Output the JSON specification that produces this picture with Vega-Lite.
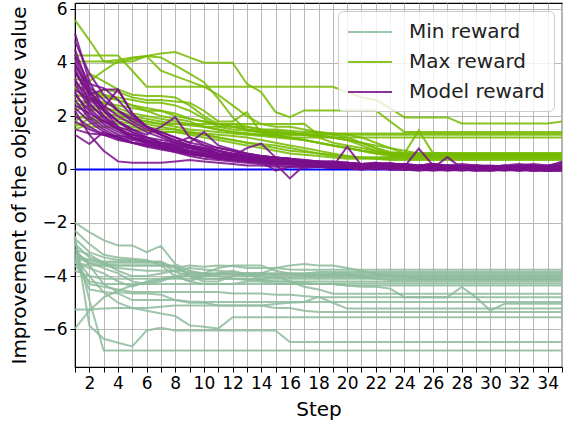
{
"$schema": "https://vega.github.io/schema/vega-lite/v6.json",
"width": 487, "height": 364,
"autosize": {"type": "none"},
"padding": {"left": 75, "top": 3, "right": 2, "bottom": 56},
"background": "white",
"config": {
 "view": {"stroke": "black", "strokeWidth": 1.2},
 "font": "DejaVu Sans",
 "axis": {"labelFont": "DejaVu Sans", "titleFont": "DejaVu Sans", "labelFontSize": 17, "titleFontSize": 20, "titleFontWeight": "normal", "labelColor": "black", "titleColor": "black", "domainColor": "black", "tickColor": "black", "gridColor": "#b8b8b8", "gridWidth": 1, "tickSize": 5, "labelPadding": 3},
 "legend": {"orient": "top-right", "offset": 8, "symbolType": "M-1,0L3,0", "symbolSize": 484, "symbolStrokeWidth": 2, "labelFontSize": 20, "labelFont": "DejaVu Sans", "labelColor": "#222222", "fillColor": "rgba(255,255,255,0.8)", "strokeColor": "#cccccc", "cornerRadius": 5, "padding": 9, "rowPadding": 8, "labelOffset": 38}
},
"data": {"values": [
{"g":"Min reward","i":"n1","s":[1,2,3,4,5,6,7,8,9,10,11,12,13,14,15,16,17,18,19,20,21,22,23,24,25,26,27,28,29,30,31,32,33,34,35],"v":[-2.0,-2.35,-2.65,-2.85,-2.85,-3.1,-2.87,-3.55,-3.8,-3.9,-3.9,-3.9,-3.95,-3.95,-3.95,-3.95,-3.95,-4.0,-4.0,-4.0,-4.0,-4.0,-4.0,-4.0,-4.0,-4.0,-4.0,-4.0,-4.0,-4.0,-4.0,-4.0,-4.0,-4.0,-4.0]},
{"g":"Min reward","i":"n2","s":[1,2,3,4,5,6,7,8,9,10,11,12,13,14,15,16,17,18,19,20,21,22,23,24,25,26,27,28,29,30,31,32,33,34,35],"v":[-2.5,-5.85,-6.35,-6.5,-6.64,-6.04,-5.94,-6.04,-6.04,-6.04,-6.04,-6.04,-6.04,-6.04,-6.04,-6.47,-6.47,-6.47,-6.47,-6.47,-6.47,-6.47,-6.47,-6.47,-6.47,-6.47,-6.47,-6.47,-6.47,-6.47,-6.47,-6.47,-6.47,-6.47,-6.47]},
{"g":"Min reward","i":"n3","s":[1,2,3,4,5,6,7,8,9,10,11,12,13,14,15,16,17,18,19,20,21,22,23,24,25,26,27,28,29,30,31,32,33,34,35],"v":[-2.7,-4.9,-6.79,-6.79,-6.79,-6.79,-6.79,-6.79,-6.79,-6.79,-6.79,-6.79,-6.79,-6.79,-6.79,-6.79,-6.79,-6.79,-6.79,-6.79,-6.79,-6.79,-6.79,-6.79,-6.79,-6.79,-6.79,-6.79,-6.79,-6.79,-6.79,-6.79,-6.79,-6.79,-6.79]},
{"g":"Min reward","i":"n4","s":[1,2,3,4,5,6,7,8,9,10,11,12,13,14,15,16,17,18,19,20,21,22,23,24,25,26,27,28,29,30,31,32,33,34,35],"v":[-5.97,-5.3,-4.8,-4.55,-4.35,-4.25,-4.15,-4.05,-4.0,-4.0,-3.95,-3.95,-3.9,-3.9,-3.9,-3.9,-3.9,-3.85,-3.85,-3.85,-3.85,-3.85,-3.85,-3.85,-3.85,-3.85,-3.85,-3.85,-3.85,-3.85,-3.85,-3.85,-3.85,-3.85,-3.85]},
{"g":"Min reward","i":"n5","s":[1,2,3,4,5,6,7,8,9,10,11,12,13,14,15,16,17,18,19,20,21,22,23,24,25,26,27,28,29,30,31,32,33,34,35],"v":[-5.25,-5.25,-5.22,-5.2,-5.2,-5.2,-5.15,-5.1,-5.1,-5.1,-5.1,-5.1,-5.1,-5.1,-5.05,-5.0,-4.97,-4.78,-5.0,-5.22,-5.22,-5.22,-5.22,-5.22,-5.22,-5.22,-5.22,-5.22,-5.22,-5.22,-5.22,-5.22,-5.22,-5.22,-5.22]},
{"g":"Min reward","i":"n6","s":[1,2,3,4,5,6,7,8,9,10,11,12,13,14,15,16,17,18,19,20,21,22,23,24,25,26,27,28,29,30,31,32,33,34,35],"v":[-3.3,-4.0,-4.6,-5.0,-5.2,-5.3,-5.4,-5.5,-5.85,-5.9,-5.97,-5.54,-5.54,-5.54,-5.54,-5.54,-5.54,-5.54,-5.54,-5.54,-5.54,-5.54,-5.54,-5.54,-5.54,-5.54,-5.54,-5.54,-5.54,-5.54,-5.54,-5.54,-5.54,-5.54,-5.54]},
{"g":"Min reward","i":"n7","s":[1,2,3,4,5,6,7,8,9,10,11,12,13,14,15,16,17,18,19,20,21,22,23,24,25,26,27,28,29,30,31,32,33,34,35],"v":[-3.0,-3.6,-4.3,-4.6,-4.65,-4.65,-4.7,-4.9,-5.0,-5.0,-5.1,-5.1,-5.1,-5.1,-5.2,-5.2,-5.3,-5.35,-5.35,-5.35,-5.35,-5.35,-5.35,-5.35,-5.35,-5.35,-5.35,-5.35,-5.35,-5.35,-5.35,-5.35,-5.35,-5.35,-5.35]},
{"g":"Min reward","i":"n8","s":[1,2,3,4,5,6,7,8,9,10,11,12,13,14,15,16,17,18,19,20,21,22,23,24,25,26,27,28,29,30,31,32,33,34,35],"v":[-3.1,-3.5,-3.7,-3.9,-4.2,-4.3,-4.2,-4.0,-4.2,-4.3,-4.3,-4.3,-4.2,-4.2,-4.3,-4.3,-4.3,-4.3,-4.3,-4.35,-4.4,-4.4,-4.47,-4.79,-4.79,-4.79,-4.79,-4.41,-4.8,-5.29,-5.04,-5.04,-5.04,-5.04,-5.04]},
{"g":"Min reward","i":"n9","s":[1,2,3,4,5,6,7,8,9,10,11,12,13,14,15,16,17,18,19,20,21,22,23,24,25,26,27,28,29,30,31,32,33,34,35],"v":[-3.4,-4.3,-4.4,-4.5,-4.6,-4.6,-4.6,-4.6,-4.6,-4.6,-4.6,-4.65,-4.65,-4.65,-4.7,-4.7,-4.75,-4.79,-4.79,-4.79,-4.79,-4.79,-4.79,-4.79,-4.79,-4.79,-4.79,-4.79,-4.79,-4.79,-4.79,-4.79,-4.79,-4.79,-4.79]},
{"g":"Min reward","i":"n10","s":[1,2,3,4,5,6,7,8,9,10,11,12,13,14,15,16,17,18,19,20,21,22,23,24,25,26,27,28,29,30,31,32,33,34,35],"v":[-3.2,-3.4,-3.55,-3.6,-3.6,-3.6,-3.6,-3.65,-3.9,-4.0,-3.9,-3.8,-3.95,-4.1,-4.0,-4.2,-4.4,-4.5,-4.66,-4.66,-4.66,-4.66,-4.66,-4.66,-4.66,-4.66,-4.66,-4.66,-4.66,-4.66,-4.66,-4.66,-4.66,-4.66,-4.66]},
{"g":"Min reward","i":"n11","s":[1,2,3,4,5,6,7,8,9,10,11,12,13,14,15,16,17,18,19,20,21,22,23,24,25,26,27,28,29,30,31,32,33,34,35],"v":[-3.5,-3.7,-3.9,-4.2,-4.4,-4.2,-4.1,-4.0,-3.9,-3.9,-4.0,-4.1,-4.1,-4.15,-4.2,-4.2,-4.25,-4.3,-4.3,-4.35,-4.35,-4.35,-4.35,-4.35,-4.35,-4.35,-4.35,-4.35,-4.35,-4.35,-4.35,-4.35,-4.35,-4.35,-4.35]},
{"g":"Min reward","i":"n12","s":[1,2,3,4,5,6,7,8,9,10,11,12,13,14,15,16,17,18,19,20,21,22,23,24,25,26,27,28,29,30,31,32,33,34,35],"v":[-3.6,-4.2,-4.3,-4.3,-4.3,-4.3,-4.3,-4.3,-4.3,-4.3,-4.3,-4.3,-4.3,-4.3,-4.3,-4.3,-4.3,-4.3,-4.28,-4.28,-4.28,-4.28,-4.28,-4.28,-4.28,-4.28,-4.28,-4.28,-4.28,-4.28,-4.28,-4.28,-4.28,-4.28,-4.28]},
{"g":"Min reward","i":"n13","s":[1,2,3,4,5,6,7,8,9,10,11,12,13,14,15,16,17,18,19,20,21,22,23,24,25,26,27,28,29,30,31,32,33,34,35],"v":[-2.8,-3.3,-3.5,-3.5,-3.5,-3.5,-3.5,-3.85,-4.0,-4.1,-4.1,-4.1,-4.15,-4.15,-4.2,-4.2,-4.2,-4.2,-4.2,-4.2,-4.2,-4.2,-4.2,-4.2,-4.2,-4.2,-4.2,-4.2,-4.2,-4.2,-4.2,-4.2,-4.2,-4.2,-4.2]},
{"g":"Min reward","i":"n14","s":[1,2,3,4,5,6,7,8,9,10,11,12,13,14,15,16,17,18,19,20,21,22,23,24,25,26,27,28,29,30,31,32,33,34,35],"v":[-3.3,-3.4,-3.45,-3.45,-3.45,-3.45,-3.45,-3.7,-3.9,-3.9,-3.7,-3.6,-3.6,-3.6,-3.8,-3.9,-4.0,-4.0,-3.9,-3.9,-4.05,-4.1,-4.15,-4.15,-4.15,-4.15,-4.15,-4.15,-4.15,-4.15,-4.15,-4.15,-4.15,-4.15,-4.15]},
{"g":"Min reward","i":"n15","s":[1,2,3,4,5,6,7,8,9,10,11,12,13,14,15,16,17,18,19,20,21,22,23,24,25,26,27,28,29,30,31,32,33,34,35],"v":[-3.5,-3.6,-3.6,-3.6,-3.6,-3.6,-3.6,-3.6,-4.0,-4.2,-4.2,-4.0,-3.9,-3.9,-3.7,-3.6,-3.55,-3.6,-3.6,-3.7,-3.8,-3.9,-4.0,-4.0,-4.1,-4.1,-4.1,-4.1,-4.1,-4.1,-4.1,-4.1,-4.1,-4.1,-4.1]},
{"g":"Min reward","i":"n16","s":[1,2,3,4,5,6,7,8,9,10,11,12,13,14,15,16,17,18,19,20,21,22,23,24,25,26,27,28,29,30,31,32,33,34,35],"v":[-2.3,-2.8,-3.2,-3.3,-3.35,-3.4,-3.6,-4.0,-4.2,-4.0,-3.9,-3.95,-4.0,-4.0,-4.05,-4.05,-4.05,-4.05,-4.05,-4.05,-4.05,-4.05,-4.05,-4.05,-4.05,-4.05,-4.05,-4.05,-4.05,-4.05,-4.05,-4.05,-4.05,-4.05,-4.05]},
{"g":"Min reward","i":"n17","s":[1,2,3,4,5,6,7,8,9,10,11,12,13,14,15,16,17,18,19,20,21,22,23,24,25,26,27,28,29,30,31,32,33,34,35],"v":[-3.0,-3.2,-3.5,-3.8,-4.0,-4.0,-3.9,-3.8,-3.7,-3.75,-3.8,-3.85,-3.9,-3.9,-3.95,-3.95,-3.95,-3.95,-3.95,-3.95,-3.95,-3.95,-3.95,-3.95,-3.95,-3.95,-3.95,-3.95,-3.95,-3.95,-3.95,-3.95,-3.95,-3.95,-3.95]},
{"g":"Min reward","i":"n18","s":[1,2,3,4,5,6,7,8,9,10,11,12,13,14,15,16,17,18,19,20,21,22,23,24,25,26,27,28,29,30,31,32,33,34,35],"v":[-3.3,-3.5,-3.6,-3.7,-3.75,-3.8,-3.8,-3.8,-3.85,-3.9,-3.9,-3.9,-3.9,-3.9,-3.9,-3.9,-3.9,-3.9,-3.9,-3.9,-3.9,-3.9,-3.9,-3.9,-3.9,-3.9,-3.9,-3.9,-3.9,-3.9,-3.9,-3.9,-3.9,-3.9,-3.9]},
{"g":"Min reward","i":"n19","s":[1,2,3,4,5,6,7,8,9,10,11,12,13,14,15,16,17,18,19,20,21,22,23,24,25,26,27,28,29,30,31,32,33,34,35],"v":[-2.6,-3.1,-3.3,-3.4,-3.4,-3.45,-3.5,-3.7,-3.6,-3.65,-3.6,-3.62,-3.7,-3.7,-3.7,-3.75,-3.76,-3.76,-3.76,-3.76,-3.76,-3.76,-3.76,-3.76,-3.76,-3.76,-3.76,-3.76,-3.76,-3.76,-3.76,-3.76,-3.76,-3.76,-3.76]},
{"g":"Min reward","i":"n20","s":[1,2,3,4,5,6,7,8,9,10,11,12,13,14,15,16,17,18,19,20,21,22,23,24,25,26,27,28,29,30,31,32,33,34,35],"v":[-3.8,-4.0,-4.1,-4.1,-4.1,-4.1,-4.1,-4.1,-4.1,-4.1,-4.1,-4.1,-4.1,-4.1,-4.1,-4.1,-4.1,-4.1,-4.1,-4.1,-4.1,-4.1,-4.1,-4.1,-4.1,-4.1,-4.1,-4.1,-4.1,-4.1,-4.1,-4.1,-4.1,-4.1,-4.1]},
{"g":"Min reward","i":"n21","s":[1,2,3,4,5,6,7,8,9,10,11,12,13,14,15,16,17,18,19,20,21,22,23,24,25,26,27,28,29,30,31,32,33,34,35],"v":[-3.4,-4.5,-4.6,-4.65,-4.9,-4.9,-4.9,-4.9,-4.95,-4.97,-4.97,-4.97,-4.97,-4.97,-4.97,-4.97,-4.97,-4.97,-4.97,-4.97,-4.97,-4.97,-4.97,-4.97,-4.97,-4.97,-4.97,-4.97,-4.97,-4.97,-4.97,-4.97,-4.97,-4.97,-4.97]},
{"g":"Max reward","i":"x1","s":[1,2,3,4,5,6,7,8,9,10,11,12,13,14,15,16,17,18,19,20,21,22,23,24,25,26,27,28,29,30,31,32,33,34,35],"v":[5.6,4.85,4.05,4.1,4.2,4.25,4.35,4.4,4.2,4.0,4.0,4.0,3.21,2.9,2.15,1.96,2.21,2.21,2.21,2.21,2.21,2.21,1.8,1.4,1.4,1.4,1.4,1.4,1.4,1.4,1.4,1.4,1.4,1.4,1.4]},
{"g":"Max reward","i":"x2","s":[1,2,3,4,5,6,7,8,9,10,11,12,13,14,15,16,17,18,19,20,21,22,23,24,25,26,27,28,29,30,31,32,33,34,35],"v":[4.27,4.27,4.27,4.27,3.7,3.1,3.1,3.1,3.1,3.1,3.1,3.1,3.1,3.1,3.1,3.1,3.1,3.1,3.1,2.9,2.7,2.6,2.3,1.95,1.95,1.95,1.95,1.72,1.72,1.72,1.72,1.72,1.72,1.72,1.8]},
{"g":"Max reward","i":"x3","s":[1,2,3,4,5,6,7,8,9,10,11,12,13,14,15,16,17,18,19,20,21,22,23,24,25,26,27,28,29,30,31,32,33,34,35],"v":[4.05,4.05,4.05,4.0,4.15,4.25,4.2,3.9,3.59,3.27,2.66,1.96,1.46,1.4,1.38,1.35,1.35,1.35,1.35,1.35,1.35,1.35,1.35,1.35,1.35,1.35,1.35,1.35,1.35,1.35,1.35,1.35,1.35,1.35,1.35]},
{"g":"Max reward","i":"x4","s":[1,2,3,4,5,6,7,8,9,10,11,12,13,14,15,16,17,18,19,20,21,22,23,24,25,26,27,28,29,30,31,32,33,34,35],"v":[3.4,3.3,3.7,4.05,4.05,4.25,3.7,3.5,3.3,3.1,2.8,2.4,2.0,1.7,1.6,1.6,1.5,1.4,1.3,1.2,1.0,0.9,0.8,0.7,0.6,0.6,0.6,0.6,0.6,0.6,0.6,0.6,0.6,0.6,0.6]},
{"g":"Max reward","i":"x5","s":[1,2,3,4,5,6,7,8,9,10,11,12,13,14,15,16,17,18,19,20,21,22,23,24,25,26,27,28,29,30,31,32,33,34,35],"v":[3.0,3.6,3.3,3.0,2.8,2.75,2.75,2.7,2.4,2.0,1.7,1.6,1.5,1.4,1.3,1.3,1.3,1.3,1.3,1.3,1.3,1.3,1.3,1.3,1.3,1.3,1.3,1.3,1.3,1.3,1.3,1.3,1.3,1.3,1.3]},
{"g":"Max reward","i":"x6","s":[1,2,3,4,5,6,7,8,9,10,11,12,13,14,15,16,17,18,19,20,21,22,23,24,25,26,27,28,29,30,31,32,33,34,35],"v":[2.6,2.5,3.0,2.9,2.7,2.6,2.6,2.55,2.5,2.2,1.8,1.8,2.15,1.35,1.3,1.2,1.2,1.2,1.2,1.2,1.2,1.2,1.2,1.2,1.2,1.2,1.2,1.2,1.2,1.2,1.2,1.2,1.2,1.2,1.2]},
{"g":"Max reward","i":"x7","s":[1,2,3,4,5,6,7,8,9,10,11,12,13,14,15,16,17,18,19,20,21,22,23,24,25,26,27,28,29,30,31,32,33,34,35],"v":[3.0,2.6,2.5,2.4,2.3,2.2,2.2,2.1,1.9,1.8,1.7,1.6,1.6,1.5,1.5,1.45,1.4,1.4,1.35,1.3,1.2,1.0,0.8,0.6,0.6,0.6,0.6,0.6,0.6,0.6,0.6,0.6,0.6,0.6,0.6]},
{"g":"Max reward","i":"x8","s":[1,2,3,4,5,6,7,8,9,10,11,12,13,14,15,16,17,18,19,20,21,22,23,24,25,26,27,28,29,30,31,32,33,34,35],"v":[2.8,2.7,2.5,2.3,2.1,2.0,1.9,1.8,1.7,1.7,1.7,1.7,1.7,1.7,1.7,1.7,1.71,1.3,1.2,1.1,1.0,0.8,0.6,0.55,0.55,0.55,0.55,0.55,0.55,0.55,0.55,0.55,0.55,0.55,0.55]},
{"g":"Max reward","i":"x9","s":[1,2,3,4,5,6,7,8,9,10,11,12,13,14,15,16,17,18,19,20,21,22,23,24,25,26,27,28,29,30,31,32,33,34,35],"v":[2.2,2.4,2.3,2.2,2.0,1.9,1.8,1.7,1.65,1.6,1.5,1.4,1.35,1.3,1.25,1.2,1.1,1.0,0.9,0.8,0.7,0.65,0.6,0.6,1.46,0.6,0.6,0.55,0.55,0.55,0.55,0.55,0.55,0.55,0.55]},
{"g":"Max reward","i":"x10","s":[1,2,3,4,5,6,7,8,9,10,11,12,13,14,15,16,17,18,19,20,21,22,23,24,25,26,27,28,29,30,31,32,33,34,35],"v":[1.8,2.2,2.3,2.1,1.9,1.8,1.7,1.6,1.5,1.45,1.4,1.35,1.3,1.25,1.2,1.15,1.1,1.0,0.9,0.8,0.7,0.6,0.5,0.5,0.5,0.5,0.5,0.5,0.5,0.5,0.5,0.5,0.5,0.5,0.5]},
{"g":"Max reward","i":"x11","s":[1,2,3,4,5,6,7,8,9,10,11,12,13,14,15,16,17,18,19,20,21,22,23,24,25,26,27,28,29,30,31,32,33,34,35],"v":[1.6,1.9,2.0,1.9,1.8,1.7,1.6,1.5,1.4,1.35,1.3,1.25,1.2,1.1,1.0,0.9,0.8,0.7,0.6,0.5,0.45,0.45,0.45,0.45,0.45,0.45,0.45,0.45,0.45,0.45,0.45,0.45,0.45,0.45,0.45]},
{"g":"Max reward","i":"x12","s":[1,2,3,4,5,6,7,8,9,10,11,12,13,14,15,16,17,18,19,20,21,22,23,24,25,26,27,28,29,30,31,32,33,34,35],"v":[1.5,1.7,1.8,1.7,1.6,1.5,1.4,1.4,1.3,1.2,1.1,1.0,0.9,0.8,0.7,0.6,0.55,0.5,0.45,0.4,0.4,0.4,0.4,0.4,0.4,0.4,0.4,0.4,0.4,0.4,0.4,0.4,0.4,0.4,0.4]},
{"g":"Max reward","i":"x13","s":[1,2,3,4,5,6,7,8,9,10,11,12,13,14,15,16,17,18,19,20,21,22,23,24,25,26,27,28,29,30,31,32,33,34,35],"v":[2.5,2.3,2.1,2.0,1.9,1.8,1.7,1.7,1.7,1.6,1.6,1.6,1.5,1.45,1.4,1.35,1.3,1.25,1.2,1.1,0.9,0.7,0.55,0.5,0.5,0.5,0.5,0.5,0.5,0.5,0.5,0.5,0.5,0.5,0.5]},
{"g":"Max reward","i":"x14","s":[1,2,3,4,5,6,7,8,9,10,11,12,13,14,15,16,17,18,19,20,21,22,23,24,25,26,27,28,29,30,31,32,33,34,35],"v":[2.7,2.9,2.7,2.6,2.4,2.3,2.2,2.0,1.9,1.8,1.7,1.7,1.6,1.5,1.45,1.4,1.3,1.2,1.0,0.9,0.8,0.7,0.6,0.6,0.6,0.6,0.6,0.6,0.6,0.6,0.6,0.6,0.6,0.6,0.6]},
{"g":"Max reward","i":"x15","s":[1,2,3,4,5,6,7,8,9,10,11,12,13,14,15,16,17,18,19,20,21,22,23,24,25,26,27,28,29,30,31,32,33,34,35],"v":[2.0,1.9,1.8,1.8,1.7,1.6,1.5,1.5,1.4,1.3,1.2,1.1,1.0,0.95,0.9,0.8,0.7,0.6,0.55,0.5,0.45,0.4,0.35,0.35,0.35,0.35,0.35,0.35,0.35,0.35,0.35,0.35,0.35,0.35,0.35]},
{"g":"Max reward","i":"x16","s":[1,2,3,4,5,6,7,8,9,10,11,12,13,14,15,16,17,18,19,20,21,22,23,24,25,26,27,28,29,30,31,32,33,34,35],"v":[3.1,3.0,2.8,2.7,2.6,2.5,2.5,2.4,2.2,1.9,1.6,1.5,1.45,1.4,1.35,1.3,1.3,1.25,1.2,1.1,1.0,0.8,0.65,0.6,0.6,0.6,0.6,0.6,0.6,0.6,0.6,0.6,0.6,0.6,0.6]},
{"g":"Max reward","i":"x17","s":[1,2,3,4,5,6,7,8,9,10,11,12,13,14,15,16,17,18,19,20,21,22,23,24,25,26,27,28,29,30,31,32,33,34,35],"v":[2.3,2.6,2.8,2.6,2.4,2.2,2.0,1.9,1.8,1.6,1.5,1.4,1.35,1.3,1.25,1.2,1.1,1.0,0.9,0.8,0.7,0.6,0.55,0.55,0.55,0.55,0.55,0.55,0.55,0.55,0.55,0.55,0.55,0.55,0.55]},
{"g":"Max reward","i":"x18","s":[1,2,3,4,5,6,7,8,9,10,11,12,13,14,15,16,17,18,19,20,21,22,23,24,25,26,27,28,29,30,31,32,33,34,35],"v":[1.7,1.6,1.6,1.55,1.5,1.45,1.4,1.4,1.35,1.3,1.2,1.1,1.0,0.9,0.8,0.7,0.65,0.6,0.5,0.45,0.45,0.45,0.45,0.45,0.45,0.45,0.45,0.45,0.45,0.45,0.45,0.45,0.45,0.45,0.45]},
{"g":"Model reward","i":"p1","s":[1,2,3,4,5,6,7,8,9,10,11,12,13,14,15,16,17,18,19,20,21,22,23,24,25,26,27,28,29,30,31,32,33,34,35],"v":[5.1,3.3,2.3,1.8,1.4,1.1,0.9,0.8,0.65,0.55,0.45,0.4,0.35,0.3,0.25,0.2,0.25,0.15,0.2,0.1,0.15,0.1,0.05,0.15,0.1,0.05,0.1,0.05,0.1,0.0,0.05,0.0,0.05,0.1,0.0]},
{"g":"Model reward","i":"p2","s":[1,2,3,4,5,6,7,8,9,10,11,12,13,14,15,16,17,18,19,20,21,22,23,24,25,26,27,28,29,30,31,32,33,34,35],"v":[4.8,3.6,2.8,2.2,1.8,1.5,1.3,1.1,0.9,0.8,0.6,0.5,0.45,0.4,0.3,0.3,0.25,0.2,0.15,0.2,0.15,0.1,0.15,0.05,0.1,0.1,0.05,0.05,0.1,0.05,0.0,0.05,0.05,0.0,0.05]},
{"g":"Model reward","i":"p3","s":[1,2,3,4,5,6,7,8,9,10,11,12,13,14,15,16,17,18,19,20,21,22,23,24,25,26,27,28,29,30,31,32,33,34,35],"v":[4.5,3.0,2.2,1.6,1.2,1.0,0.85,0.7,0.6,0.5,0.4,0.35,0.3,0.25,0.2,0.2,0.15,0.2,0.1,0.1,0.05,0.1,0.05,0.05,0.0,0.05,0.0,0.0,-0.05,0.0,0.0,0.05,0.0,-0.05,0.0]},
{"g":"Model reward","i":"p4","s":[1,2,3,4,5,6,7,8,9,10,11,12,13,14,15,16,17,18,19,20,21,22,23,24,25,26,27,28,29,30,31,32,33,34,35],"v":[4.3,3.2,3.05,2.6,2.0,1.6,1.3,1.1,0.9,0.75,0.6,0.5,0.45,0.35,0.3,0.3,0.25,0.2,0.25,0.15,0.2,0.15,0.1,0.15,0.1,0.1,0.15,0.1,0.05,0.1,0.1,0.05,0.1,0.1,0.15]},
{"g":"Model reward","i":"p5","s":[1,2,3,4,5,6,7,8,9,10,11,12,13,14,15,16,17,18,19,20,21,22,23,24,25,26,27,28,29,30,31,32,33,34,35],"v":[4.0,2.8,3.0,3.0,2.1,1.6,1.3,1.0,1.2,0.9,0.7,0.55,0.45,0.4,0.3,0.25,0.3,0.2,0.15,0.2,0.1,0.15,0.1,0.05,0.1,0.05,0.1,0.05,0.05,0.1,0.05,0.05,0.0,0.05,0.1]},
{"g":"Model reward","i":"p6","s":[1,2,3,4,5,6,7,8,9,10,11,12,13,14,15,16,17,18,19,20,21,22,23,24,25,26,27,28,29,30,31,32,33,34,35],"v":[3.8,2.5,1.9,1.5,1.3,1.1,0.9,0.75,0.6,0.5,0.45,0.4,0.35,0.3,0.25,0.2,0.2,0.15,0.1,0.85,0.15,0.1,0.05,0.1,0.05,0.0,0.05,0.0,0.0,0.05,0.0,0.0,-0.05,0.0,0.0]},
{"g":"Model reward","i":"p7","s":[1,2,3,4,5,6,7,8,9,10,11,12,13,14,15,16,17,18,19,20,21,22,23,24,25,26,27,28,29,30,31,32,33,34,35],"v":[3.6,2.9,2.4,2.0,1.7,1.4,1.2,1.0,0.85,0.7,0.6,0.5,0.45,0.4,0.35,0.3,0.3,0.25,0.2,0.2,0.15,0.2,0.15,0.1,0.78,0.15,0.1,0.1,0.05,0.1,0.05,0.1,0.05,0.05,0.1]},
{"g":"Model reward","i":"p8","s":[1,2,3,4,5,6,7,8,9,10,11,12,13,14,15,16,17,18,19,20,21,22,23,24,25,26,27,28,29,30,31,32,33,34,35],"v":[3.4,2.4,2.0,1.6,1.4,1.2,1.0,0.9,0.8,0.65,0.55,0.5,0.4,0.3,-0.05,0.1,0.15,0.1,0.05,0.1,0.05,0.05,0.1,0.0,0.05,0.05,0.46,0.05,0.0,0.0,0.05,0.0,-0.05,-0.05,0.0]},
{"g":"Model reward","i":"p9","s":[1,2,3,4,5,6,7,8,9,10,11,12,13,14,15,16,17,18,19,20,21,22,23,24,25,26,27,28,29,30,31,32,33,34,35],"v":[3.2,2.3,1.8,1.5,1.2,1.0,0.9,0.75,0.6,0.5,0.4,0.35,0.3,0.3,0.2,-0.34,0.15,0.1,0.1,0.05,0.05,0.0,0.05,0.0,0.05,0.0,0.0,-0.05,0.0,0.0,0.0,-0.05,0.0,0.0,0.0]},
{"g":"Model reward","i":"p10","s":[1,2,3,4,5,6,7,8,9,10,11,12,13,14,15,16,17,18,19,20,21,22,23,24,25,26,27,28,29,30,31,32,33,34,35],"v":[3.0,2.6,2.2,1.8,1.5,1.3,1.6,1.96,1.2,1.0,0.8,0.7,0.5,0.45,0.4,0.3,0.25,0.2,0.25,0.2,0.15,0.15,0.1,0.15,0.1,0.1,0.05,0.1,0.1,0.05,0.15,0.1,0.1,0.05,0.15]},
{"g":"Model reward","i":"p11","s":[1,2,3,4,5,6,7,8,9,10,11,12,13,14,15,16,17,18,19,20,21,22,23,24,25,26,27,28,29,30,31,32,33,34,35],"v":[2.8,2.2,1.7,1.4,1.2,1.05,0.95,0.85,0.7,0.6,0.5,0.45,0.4,0.35,0.3,0.3,0.25,0.2,0.25,0.2,0.15,0.15,0.2,0.15,0.1,0.15,0.1,0.15,0.1,0.1,0.1,0.05,0.1,0.1,0.1]},
{"g":"Model reward","i":"p12","s":[1,2,3,4,5,6,7,8,9,10,11,12,13,14,15,16,17,18,19,20,21,22,23,24,25,26,27,28,29,30,31,32,33,34,35],"v":[2.6,1.9,1.5,1.2,1.0,0.9,0.8,0.7,0.6,0.5,0.45,0.4,0.3,0.25,0.2,0.2,0.15,0.1,0.15,0.1,0.05,0.1,0.05,0.05,0.0,0.05,0.0,0.05,0.0,0.0,-0.05,0.0,0.0,0.05,0.0]},
{"g":"Model reward","i":"p13","s":[1,2,3,4,5,6,7,8,9,10,11,12,13,14,15,16,17,18,19,20,21,22,23,24,25,26,27,28,29,30,31,32,33,34,35],"v":[2.2,1.3,0.7,0.3,0.25,0.25,0.25,0.3,0.35,0.3,0.25,0.2,0.15,0.15,0.1,0.1,0.05,0.1,0.05,0.05,0.0,0.05,0.0,0.0,0.0,-0.05,0.0,0.0,0.0,-0.05,0.0,0.0,-0.05,0.0,0.0]},
{"g":"Model reward","i":"p14","s":[1,2,3,4,5,6,7,8,9,10,11,12,13,14,15,16,17,18,19,20,21,22,23,24,25,26,27,28,29,30,31,32,33,34,35],"v":[2.3,1.8,1.4,1.15,1.0,0.9,0.8,0.7,0.6,0.55,0.5,0.45,0.4,0.35,0.3,0.25,0.2,0.2,0.15,0.15,0.1,0.15,0.1,0.05,0.1,0.05,0.05,0.1,0.05,0.05,0.0,0.05,0.05,0.0,0.05]},
{"g":"Model reward","i":"p15","s":[1,2,3,4,5,6,7,8,9,10,11,12,13,14,15,16,17,18,19,20,21,22,23,24,25,26,27,28,29,30,31,32,33,34,35],"v":[2.0,1.6,1.3,1.1,1.0,0.95,0.9,0.8,0.7,0.6,0.5,0.45,0.4,0.35,0.3,0.3,0.25,0.3,0.2,0.25,0.2,0.15,0.2,0.15,0.1,0.15,0.15,0.1,0.1,0.1,0.15,0.1,0.15,0.1,0.1]},
{"g":"Model reward","i":"p16","s":[1,2,3,4,5,6,7,8,9,10,11,12,13,14,15,16,17,18,19,20,21,22,23,24,25,26,27,28,29,30,31,32,33,34,35],"v":[1.8,1.5,1.3,1.2,1.1,1.0,0.9,0.8,0.7,0.6,0.5,0.45,0.4,0.35,0.3,0.25,0.25,0.2,0.15,0.15,0.1,0.15,0.1,0.1,0.05,0.1,0.05,0.1,0.05,0.05,0.05,0.0,0.05,0.05,0.05]},
{"g":"Model reward","i":"p17","s":[1,2,3,4,5,6,7,8,9,10,11,12,13,14,15,16,17,18,19,20,21,22,23,24,25,26,27,28,29,30,31,32,33,34,35],"v":[1.5,1.35,1.3,1.25,1.2,1.1,1.0,0.9,0.8,0.7,0.6,0.55,0.5,0.4,0.35,0.3,0.25,0.2,0.2,0.15,0.15,0.1,0.15,0.1,0.1,0.05,0.1,0.1,0.05,0.1,0.1,0.05,0.1,0.1,0.1]},
{"g":"Model reward","i":"p18","s":[1,2,3,4,5,6,7,8,9,10,11,12,13,14,15,16,17,18,19,20,21,22,23,24,25,26,27,28,29,30,31,32,33,34,35],"v":[1.3,0.95,1.4,1.2,1.0,0.85,0.75,0.65,0.55,0.5,0.45,0.4,0.35,0.3,0.25,0.2,0.2,0.15,0.1,0.1,0.1,0.05,0.1,0.05,0.05,0.0,0.05,0.05,0.0,0.05,0.05,0.0,0.05,0.05,0.05]},
{"g":"Model reward","i":"p19","s":[1,2,3,4,5,6,7,8,9,10,11,12,13,14,15,16,17,18,19,20,21,22,23,24,25,26,27,28,29,30,31,32,33,34,35],"v":[3.9,3.1,2.6,2.2,1.9,1.6,1.4,1.2,1.0,0.9,0.8,0.7,0.6,0.5,0.45,0.4,0.35,0.3,0.3,0.25,0.2,0.25,0.2,0.2,0.15,0.2,0.15,0.2,0.15,0.1,0.15,0.2,0.15,0.15,0.25]},
{"g":"Model reward","i":"p20","s":[1,2,3,4,5,6,7,8,9,10,11,12,13,14,15,16,17,18,19,20,21,22,23,24,25,26,27,28,29,30,31,32,33,34,35],"v":[3.3,2.7,2.3,3.0,2.1,1.6,1.4,1.2,1.0,1.4,0.9,0.75,0.6,0.5,0.45,0.4,0.3,0.3,0.25,0.25,0.2,0.25,0.15,0.2,0.15,0.2,0.15,0.1,0.15,0.15,0.1,0.15,0.2,0.15,0.2]},
{"g":"Model reward","i":"p21","s":[1,2,3,4,5,6,7,8,9,10,11,12,13,14,15,16,17,18,19,20,21,22,23,24,25,26,27,28,29,30,31,32,33,34,35],"v":[4.2,2.9,2.2,1.8,1.5,1.2,1.0,0.9,0.8,0.7,0.6,0.5,0.8,0.97,0.45,0.4,0.3,0.25,0.25,0.2,0.2,0.15,0.2,0.15,0.1,0.15,0.1,0.1,0.15,0.1,0.05,0.1,0.1,0.05,0.1]},
{"g":"Model reward","i":"p22","s":[1,2,3,4,5,6,7,8,9,10,11,12,13,14,15,16,17,18,19,20,21,22,23,24,25,26,27,28,29,30,31,32,33,34,35],"v":[2.9,2.0,1.6,1.3,1.15,1.05,1.0,0.95,0.9,0.8,0.7,0.6,0.5,0.45,0.4,0.35,0.3,0.25,0.2,0.2,0.15,0.1,0.15,0.1,0.05,0.1,0.05,0.0,0.05,0.0,0.05,0.0,0.0,-0.05,-0.05]},
{"g":"Model reward","i":"p23","s":[1,2,3,4,5,6,7,8,9,10,11,12,13,14,15,16,17,18,19,20,21,22,23,24,25,26,27,28,29,30,31,32,33,34,35],"v":[2.4,2.1,1.8,1.5,1.3,1.2,1.1,1.0,0.9,0.8,0.7,0.6,0.55,0.5,0.45,0.4,0.35,0.3,0.3,0.25,0.2,0.2,0.25,0.15,0.15,0.2,0.1,0.15,0.15,0.1,0.1,0.15,0.1,0.1,0.3]},
{"g":"Model reward","i":"p24","s":[1,2,3,4,5,6,7,8,9,10,11,12,13,14,15,16,17,18,19,20,21,22,23,24,25,26,27,28,29,30,31,32,33,34,35],"v":[3.7,2.8,2.0,1.5,1.2,1.0,0.8,0.65,0.5,0.4,0.35,0.3,0.25,0.2,0.15,0.15,0.1,0.1,0.05,0.05,0.0,0.05,0.0,0.0,-0.05,0.0,-0.05,0.0,-0.05,-0.05,0.0,-0.05,0.0,-0.05,-0.05]}
]},
"transform": [{"flatten": ["s", "v"]}],
"layer": [
 {"data": {"values": [{"z": 0}]}, "mark": {"type": "rule", "color": "#0000ff", "strokeWidth": 2}, "encoding": {"y": {"field": "z", "type": "quantitative"}}},
 {"encoding": {
   "x": {"field": "s", "type": "quantitative", "scale": {"domain": [1, 35], "nice": false, "zero": false}, "axis": {"values": [1,2,3,4,5,6,7,8,9,10,11,12,13,14,15,16,17,18,19,20,21,22,23,24,25,26,27,28,29,30,31,32,33,34,35], "labelExpr": "datum.value % 2 == 0 ? datum.label : ''", "title": "Step", "titlePadding": 8, "labelFlush": false, "labelOverlap": false}},
   "y": {"field": "v", "type": "quantitative", "scale": {"domain": [-7.41, 6.24], "nice": false, "zero": false}, "axis": {"values": [-6,-4,-2,0,2,4,6], "title": "Improvement of the objective value", "titlePadding": 12, "labelFlush": false}},
   "color": {"field": "g", "type": "nominal", "scale": {"domain": ["Min reward", "Max reward", "Model reward"], "range": ["#8dbb9b", "#76bb00", "#7a0f8c"]}, "legend": {"title": null}},
   "detail": {"field": "i"}
  },
  "layer": [
   {"transform": [{"filter": "datum.g === 'Min reward'"}], "mark": {"type": "line", "strokeWidth": 2, "opacity": 0.85}},
   {"transform": [{"filter": "datum.g === 'Max reward'"}], "mark": {"type": "line", "strokeWidth": 2, "opacity": 0.85}},
   {"transform": [{"filter": "datum.g === 'Model reward'"}], "mark": {"type": "line", "strokeWidth": 2, "opacity": 0.85}}
  ]}
]
}
